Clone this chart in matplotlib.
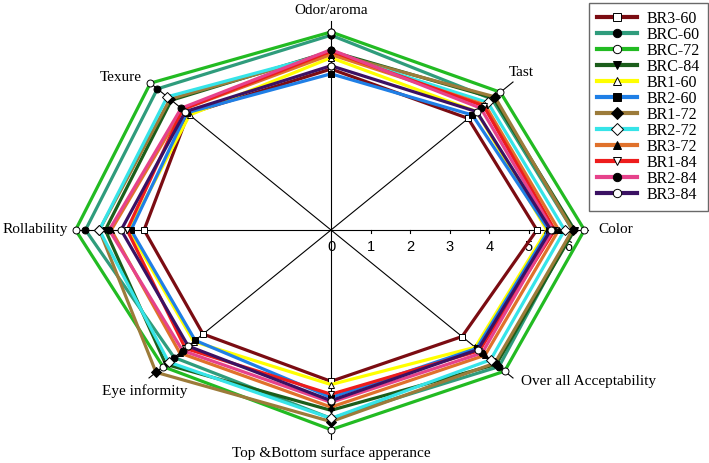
import matplotlib
matplotlib.use('Agg')
import matplotlib.pyplot as plt
import numpy as np

# sensory attributes, clockwise from the top
attributes = ['Odor/aroma', 'Tast', 'Color', 'Over all Acceptability',
              'Top &Bottom surface apperance', 'Eye informity', 'Rollability', 'Texure']

samples = ['BR3-60', 'BRC-60', 'BRC-72', 'BRC-84', 'BR1-60', 'BR2-60',
           'BR1-72', 'BR2-72', 'BR3-72', 'BR1-84', 'BR2-84', 'BR3-84']

# scores per sample, in attribute order
br3_60 = [5.00, 4.90, 5.20, 4.68, 4.70, 4.57, 4.72, 5.10]
brc_60 = [6.05, 5.75, 6.10, 6.00, 5.85, 5.60, 6.20, 6.20]
brc_72 = [6.15, 6.05, 6.40, 6.20, 6.20, 6.00, 6.45, 6.45]
brc_84 = [5.55, 5.80, 6.15, 5.90, 5.60, 5.90, 5.70, 5.70]
br1_60 = [5.35, 5.20, 5.45, 5.15, 4.80, 4.90, 5.10, 5.05]
br2_60 = [4.85, 5.05, 5.50, 5.20, 5.20, 4.85, 5.05, 5.15]
br1_72 = [5.50, 5.85, 6.10, 5.85, 5.95, 6.25, 5.85, 5.75]
br2_72 = [5.50, 5.60, 5.90, 5.70, 5.85, 5.80, 5.85, 5.85]
br3_72 = [5.45, 5.50, 5.75, 5.50, 5.50, 5.40, 5.55, 5.30]
br1_84 = [5.55, 5.45, 5.65, 5.30, 5.10, 5.20, 5.15, 5.30]
br2_84 = [5.60, 5.35, 5.60, 5.40, 5.35, 5.30, 5.60, 5.35]
br3_84 = [5.10, 5.20, 5.55, 5.25, 5.30, 5.10, 5.30, 5.20]

scores = [br3_60, brc_60, brc_72, brc_84, br1_60, br2_60,
          br1_72, br2_72, br3_72, br1_84, br2_84, br3_84]

tick_values = [0, 1, 2, 3, 4, 5, 6]
spoke_len = 6.5

colors = ['#7b0c12', '#2f9c7c', '#22bb22', '#1b5e1b', '#ffff00', '#1f7fe6',
          '#9c7b3a', '#36e4e8', '#e0712b', '#ee1c1c', '#e6428b', '#3b1163']
markers = ['s', 'o', 'o', 'v', '^', 's', 'D', 'D', '^', 'v', 'o', 'o']
faces = ['white', 'black', 'white', 'black', 'white', 'black',
         'black', 'white', 'black', 'white', 'black', 'white']

serif = 'Liberation Serif'

fig = plt.figure(figsize=(7.09, 4.63), dpi=100)
ax = fig.add_axes([0, 0, 1, 1])
# center of the star sits at pixel (331, 230); axes are stretched horizontally
xs, ys = 39.6, 32.2
ax.set_xlim(-331 / xs, (709 - 331) / xs)
ax.set_ylim(-(463 - 230) / ys, 230 / ys)
ax.axis('off')

angles = np.deg2rad(90 - 45 * np.arange(len(attributes)))

# spokes
for a in angles:
    ax.plot([0, spoke_len * np.cos(a)], [0, spoke_len * np.sin(a)],
            color='black', lw=0.8, zorder=1)

# radial ticks along the Color axis
for t in tick_values[1:]:
    ax.plot([t, t], [0, -0.1], color='black', lw=0.8, zorder=1)
for t in tick_values:
    ax.text(t, -0.3, str(t), ha='center', va='top', fontsize=10.5,
            family='Liberation Sans', zorder=0.5)

handles = []
for name, vals, c, m, f in zip(samples, scores, colors, markers, faces):
    r = np.array(vals + vals[:1])
    a = np.concatenate([angles, angles[:1]])
    h, = ax.plot(r * np.cos(a), r * np.sin(a), color=c, lw=2.3,
                 marker=m, ms=5, mfc=f, mec='black', mew=0.7, zorder=3,
                 label=name)
    handles.append(h)

# attribute labels
label_pos = [(0, 6.83, 'center', 'center'), (4.8, 4.9, 'center', 'center'),
             (6.74, 0, 'left', 'center'), (4.8, -4.72, 'left', 'center'),
             (0, -6.93, 'center', 'center'), (-4.7, -5.0, 'center', 'center'),
             (-6.65, 0, 'right', 'center'), (-4.77, 4.75, 'right', 'center')]
for txt, (x, y, ha, va) in zip(attributes, label_pos):
    ax.text(x, y, txt, ha=ha, va=va, fontsize=11, family=serif)

leg = ax.legend(handles=handles, loc='upper right',
                bbox_to_anchor=(708 / 709, 1 - 3 / 463),
                bbox_transform=fig.transFigure, borderaxespad=0,
                prop={'family': serif, 'size': 11.5}, frameon=True,
                fancybox=False, labelspacing=0.0, handlelength=2.5,
                handletextpad=0.6, borderpad=0.5, markerscale=1.2)
leg.get_frame().set_edgecolor('#444444')
leg.get_frame().set_linewidth(1.0)
for line in leg.get_lines():
    line.set_linewidth(3)

fig.savefig('out.png', dpi=100)
